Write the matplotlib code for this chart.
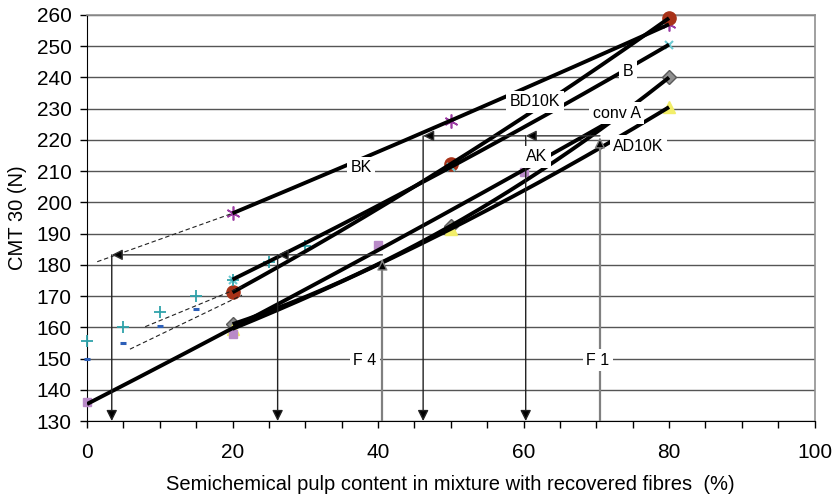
import numpy as np
import matplotlib
matplotlib.use('Agg')
from matplotlib import pyplot as plt

plt.rcParams['font.family'] = ['Liberation Sans', 'DejaVu Sans']

# values (x = semichemical pulp %, y = CMT 30 in N)
pulp_x = [20, 50, 80]
bk_y = [196.5, 226.2, 257.0]
bd10k_y = [171.2, 212.3, 259.0]
b_y = [175.3, 211.3, 250.5]
conv_a_y = [161.0, 192.5, 240.0]
ad10k_y = [159.5, 191.5, 230.5]
ak_x = [0, 20, 40, 60]
ak_y = [136.0, 158.0, 186.4, 209.8]
plus_x = [0, 5, 10, 15, 20, 25, 30]
plus_y = [155.5, 160.0, 165.0, 170.0, 175.0, 181.0, 186.0]
minus_x = [0, 5, 10, 15]
minus_y = [150.0, 155.0, 160.5, 166.0]

# reading guides: F 4 / F 1 levels and where they land on the x axis
f4_x, f4_y = 40.6, 183.2
f4_reads = [26.2, 3.4]
f1_x, f1_y = 70.5, 221.3
f1_reads = [60.3, 46.2]

# dashed extrapolations towards 0 %
dash_x0 = [1.4, 8.0, 5.9]
dash_y0 = [181.0, 160.2, 153.0]
dash_x1 = [20.0, 21.3, 21.3]
dash_y1 = [196.5, 173.0, 170.3]


def trend(x, y, x0, x1):
    p = np.polyfit(x, y, 2)
    xs = np.linspace(x0, x1, 200)
    return xs, np.polyval(p, xs)


def arrow(ax, x0, y0, x1, y1, ec='black', lw=1.0):
    ax.annotate('', xy=(x1, y1), xytext=(x0, y0), zorder=6,
                arrowprops=dict(arrowstyle='-|>', ec=ec, fc='black', lw=lw,
                                mutation_scale=16, shrinkA=0, shrinkB=0))


fig = plt.figure(figsize=(8.32, 4.99), dpi=100)
ax = fig.add_axes([0.1046, 0.1563, 0.8744, 0.8137])

# markers
mk = dict(ls='none', clip_on=False, zorder=3)
ax.plot(pulp_x, bk_y, marker=(6, 2, 0), ms=10, mec='#9c3ca4', mew=1.2, **mk)
ax.plot(pulp_x, bd10k_y, marker='o', ms=9.5, mfc='#a83218', mec='#a83218', **mk)
ax.plot(pulp_x, b_y, marker='x', ms=6, mec='#6ccad2', mew=1.5, **mk)
ax.plot(pulp_x, conv_a_y, marker='D', ms=7, mfc='#909090', mec='#5a5a5a', **mk)
ax.plot(pulp_x, ad10k_y, marker='^', ms=9, mfc='#f2ee6a', mec='#f2ee6a', **mk)
ax.plot(ak_x, ak_y, marker='s', ms=6, mfc='#b98ac8', mec='#b98ac8', **mk)
ax.plot(plus_x, plus_y, marker='+', ms=8, mec='#2fa2aa', mew=1.3, **mk)
ax.plot(minus_x, minus_y, marker='_', ms=4.5, mec='#2c5fb8', mew=2.2, **mk)

# trend lines (2nd order, as in the original)
for ys in [bk_y, bd10k_y, b_y, conv_a_y, ad10k_y]:
    tx, ty = trend(pulp_x, ys, 20, 80)
    ax.plot(tx, ty, color='black', lw=2.8, solid_capstyle='butt', zorder=4)
tx, ty = trend(ak_x, ak_y, 0, 71.5)
ax.plot(tx, ty, color='black', lw=2.8, solid_capstyle='butt', zorder=4)

for i in range(len(dash_x0)):
    ax.plot([dash_x0[i], dash_x1[i]], [dash_y0[i], dash_y1[i]], color='#222222',
            lw=0.8, ls=(0, (4, 2.5)), zorder=4)

# F 4 reading
ax.plot([f4_x, f4_x], [130, f4_y - 2], color='#808080', lw=1.6, zorder=5)
arrow(ax, f4_x, f4_y - 3, f4_x, f4_y - 1.5, ec='#808080')
arrow(ax, f4_x, f4_y, f4_reads[0], f4_y, ec='#333333')
arrow(ax, f4_reads[0], f4_y, f4_reads[1], f4_y, ec='#333333')
for xr in f4_reads:
    arrow(ax, xr, f4_y, xr, 130, ec='#222222')

# F 1 reading
ax.plot([f1_x, f1_x], [130, f1_y - 2], color='#808080', lw=1.6, zorder=5)
arrow(ax, f1_x, f1_y - 3, f1_x, f1_y - 0.5, ec='#808080')
arrow(ax, f1_x, f1_y, f1_reads[0], f1_y, ec='#333333')
arrow(ax, f1_reads[0], f1_y, f1_reads[1], f1_y, ec='#333333')
for xr in f1_reads:
    arrow(ax, xr, f1_y, xr, 130, ec='#222222')

# inline labels
box = dict(facecolor='white', edgecolor='none', pad=2.5)
labels = ['BK', 'BD10K', 'B', 'conv A', 'AD10K', 'AK', 'F 4', 'F 1']
label_x = [37.7, 61.6, 74.4, 72.8, 75.8, 61.8, 38.2, 70.2]
label_y = [211.1, 232.2, 241.8, 228.5, 218.0, 214.6, 149.5, 149.5]
for t, lx, ly in zip(labels, label_x, label_y):
    ax.text(lx, ly, t, fontsize=11.5, ha='center', va='center', bbox=box, zorder=8)

ax.set_xlim(0, 100)
ax.set_ylim(130, 260)
ax.set_xticks(range(0, 101, 20))
ax.set_xticks(range(0, 101, 5), minor=True)
ax.set_yticks(range(130, 261, 10))
ax.tick_params(axis='x', which='both', direction='out', length=5, width=1, pad=11, labelsize=15)
ax.tick_params(axis='y', direction='out', length=5, width=1, pad=6, labelsize=15)
ax.yaxis.grid(True, color='#555555', lw=1)
ax.set_axisbelow(True)

for side in ['top', 'right']:
    ax.spines[side].set_color('#909090')
    ax.spines[side].set_linewidth(1.2)
for side in ['left', 'bottom']:
    ax.spines[side].set_color('black')

ax.set_ylabel('CMT 30 (N)', fontsize=14.5, labelpad=7)
ax.set_xlabel('Semichemical pulp content in mixture with recovered fibres  (%)', fontsize=14.5, labelpad=9)

fig.savefig('out.png', dpi=100)
